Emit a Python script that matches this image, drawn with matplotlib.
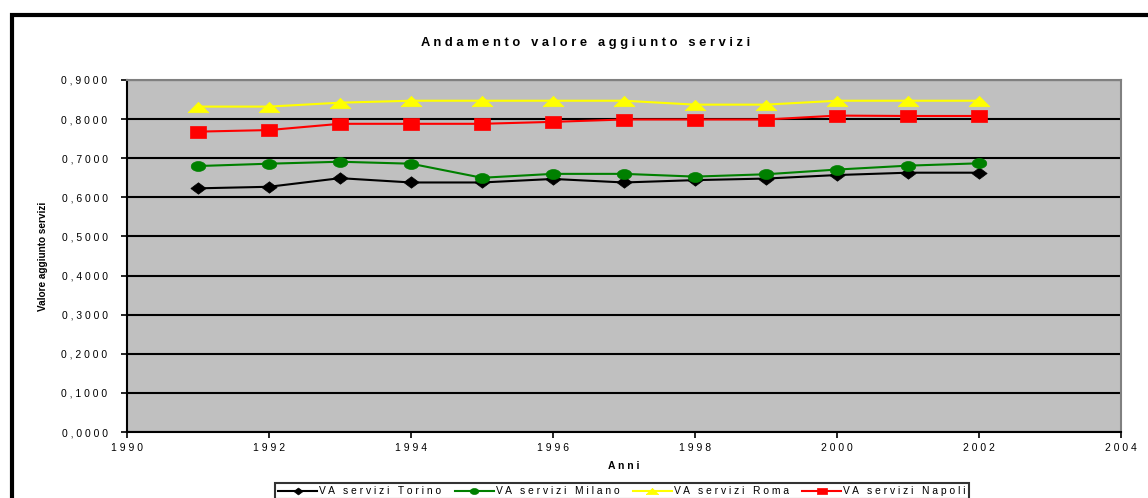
import numpy as np
import matplotlib.pyplot as plt
from matplotlib.patches import Rectangle

plt.rcParams['font.family'] = ['Liberation Sans', 'DejaVu Sans']

anni = [1991, 1992, 1993, 1994, 1995, 1996, 1997, 1998, 1999, 2000, 2001, 2002]
torino = [0.623, 0.627, 0.649, 0.638, 0.638, 0.647, 0.638, 0.644, 0.648, 0.657, 0.663, 0.663]
milano = [0.680, 0.686, 0.691, 0.686, 0.650, 0.660, 0.660, 0.653, 0.659, 0.671, 0.681, 0.687]
roma = [0.832, 0.832, 0.842, 0.847, 0.847, 0.847, 0.847, 0.837, 0.837, 0.847, 0.847, 0.847]
napoli = [0.768, 0.772, 0.788, 0.788, 0.788, 0.793, 0.799, 0.799, 0.799, 0.809, 0.808, 0.808]

y_ticks = [0.0, 0.1, 0.2, 0.3, 0.4, 0.5, 0.6, 0.7, 0.8, 0.9]
x_ticks = [1990, 1992, 1994, 1996, 1998, 2000, 2002, 2004]


def spaced(s):
    # Excel-style letter spacing
    return ' '.join(s)


# Excel markers come out stretched sideways
t = np.linspace(0, 2 * np.pi, 30)
m_ellisse = list(zip(np.cos(t), 0.68 * np.sin(t)))
m_rombo = [(-1, 0), (0, 0.75), (1, 0), (0, -0.75), (-1, 0)]
m_triang = [(-1, -0.5), (1, -0.5), (0, 0.5), (-1, -0.5)]
m_rett = [(-1, -0.7), (1, -0.7), (1, 0.7), (-1, 0.7), (-1, -0.7)]

fig = plt.figure(figsize=(11.48, 4.98), dpi=100)
fig.patches.append(Rectangle((12 / 1148, -0.2), 1.5, 1 - 15 / 498 + 0.2, transform=fig.transFigure,
                             fill=False, edgecolor='black', linewidth=3))

ax = fig.add_axes([127 / 1148, 66 / 498, (1121 - 127) / 1148, (432 - 80) / 498])
ax.set_facecolor('#c0c0c0')

ax.plot(anni, torino, color='black', marker=m_rombo, markersize=11, markeredgewidth=0.5, linewidth=1.5,
        label=spaced('VA servizi Torino'))
ax.plot(anni, milano, color='#008000', marker=m_ellisse, markersize=10.5, markeredgewidth=0.5, linewidth=1.5,
        label=spaced('VA servizi Milano'))
ax.plot(anni, roma, color='#ffff00', marker=m_triang, markersize=15, markeredgewidth=0.5, linewidth=1.5,
        label=spaced('VA servizi Roma'))
ax.plot(anni, napoli, color='#ff0000', marker=m_rett, markersize=12, markeredgewidth=0.5, linewidth=1.5,
        label=spaced('VA servizi Napoli'))

ax.set_xlim(1990, 2004)
ax.set_ylim(0, 0.9)
ax.set_yticks(y_ticks)
ax.set_yticklabels([spaced(('%.4f' % v).replace('.', ',')) for v in y_ticks], fontsize=7.5)
ax.set_xticks(x_ticks)
ax.set_xticklabels([spaced(str(v)) for v in x_ticks], fontsize=7.5)
ax.tick_params(axis='y', direction='out', length=4, width=1.2, pad=10)
ax.tick_params(axis='x', direction='out', length=4, width=1.2, pad=4)
ax.grid(axis='y', color='black', linewidth=1.5)
ax.set_axisbelow(True)

for side in ['top', 'right']:
    ax.spines[side].set_color('#808080')
    ax.spines[side].set_linewidth(1.5)
for side in ['left', 'bottom']:
    ax.spines[side].set_color('black')
    ax.spines[side].set_linewidth(1.5)

ax.set_xlabel(spaced('Anni'), fontsize=7.5, fontweight='bold', labelpad=6)
ax.set_ylabel('Valore aggiunto servizi', fontsize=7.2, fontweight='bold', labelpad=10)
fig.text(586 / 1148, 1 - 43 / 498, spaced('Andamento valore aggiunto servizi'), fontsize=9.3,
         fontweight='bold', ha='center', va='center')

leg = fig.legend(loc='upper center', bbox_to_anchor=(622 / 1148, 1 - 481 / 498), ncol=4, fontsize=7.4,
                 frameon=True, fancybox=False, edgecolor='black', handlelength=3.8, handletextpad=0.2,
                 columnspacing=1.3, borderpad=0.3, borderaxespad=0.2, markerscale=0.6)
leg.get_frame().set_linewidth(1.5)

fig.savefig('out.png', dpi=100)
